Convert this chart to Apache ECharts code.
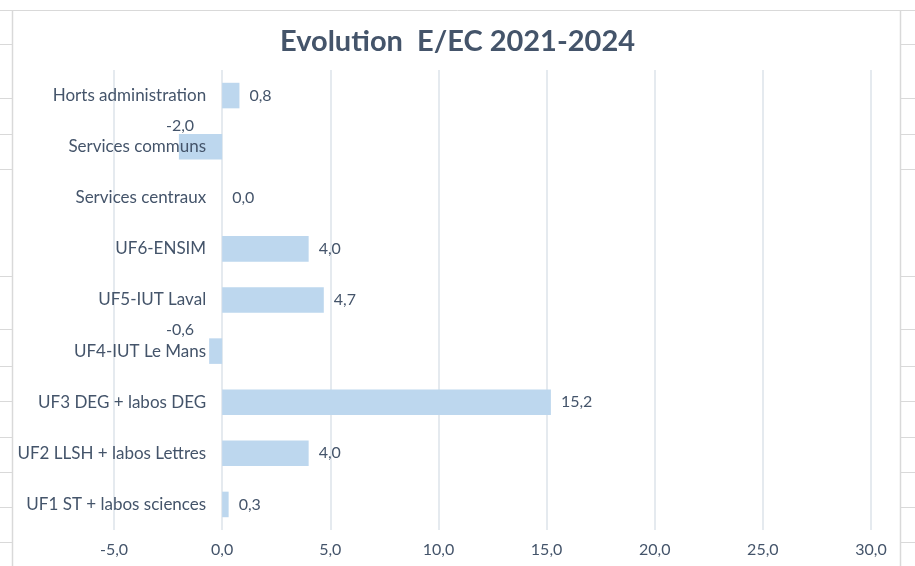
<!DOCTYPE html>
<html><head><meta charset="utf-8">
<script src="https://cdn.jsdelivr.net/npm/echarts@6/dist/echarts.min.js"></script>
<style>html,body{margin:0;padding:0;background:#fff}#c{width:915px;height:566px}</style>
</head><body><div id="c"></div>
<script>
const categories = ["UF1 ST + labos sciences","UF2 LLSH + labos Lettres","UF3 DEG + labos DEG","UF4-IUT Le Mans","UF5-IUT Laval","UF6-ENSIM","Services centraux","Services communs","Horts administration"];
const values = [0.3, 4.0, 15.2, -0.6, 4.7, 4.0, 0.0, -2.0, 0.8];
const xTicks = { min: -5, max: 30, interval: 5 };
const titleText = "Evolution  E/EC 2021-2024";

const FONT = "Lato";
const TXT = "#44546A";
const fmt = v => Number(v).toFixed(1).replace('.', ',');
const sheetRows = [44, 98, 134, 169, 276, 329, 366, 401, 437, 472, 507, 542];

const W = 915, GRID_L = 114, GRID_R = 44;
// place the category axis at the value 0 crossing (as in Excel)
const zeroOffset = -((0 - xTicks.min) / (xTicks.max - xTicks.min)) * (W - GRID_L - GRID_R);

const graphics = [];
graphics.push({type:'line', shape:{x1:0,y1:10.5,x2:915,y2:10.5}, style:{stroke:'#d9d9d9',lineWidth:1}, silent:true});
graphics.push({type:'line', shape:{x1:12.5,y1:10,x2:12.5,y2:566}, style:{stroke:'#d9d9d9',lineWidth:1.5}, silent:true});
graphics.push({type:'line', shape:{x1:900.5,y1:10,x2:900.5,y2:566}, style:{stroke:'#d9d9d9',lineWidth:1.5}, silent:true});
sheetRows.forEach(y => {
  graphics.push({type:'line', shape:{x1:0,y1:y+0.5,x2:12,y2:y+0.5}, style:{stroke:'#d9d9d9',lineWidth:1}, silent:true});
  graphics.push({type:'line', shape:{x1:901,y1:y+0.5,x2:915,y2:y+0.5}, style:{stroke:'#d9d9d9',lineWidth:1}, silent:true});
});

const data = values.map(v => ({
  value: v,
  label: v < 0
    ? { show: true, position: 'insideRight', distance: 5, offset: [-23, -21] }
    : { show: true, position: 'right', distance: 10 }
}));

const chart = echarts.init(document.getElementById('c'), null, {renderer:'canvas'});
chart.setOption({
  animation: false,
  backgroundColor: '#ffffff',
  textStyle: { fontFamily: FONT },
  graphic: graphics,
  title: {
    text: titleText, left: 'center', top: 22,
    textStyle: { fontFamily: FONT, fontSize: 29, fontWeight: 'bold', color: TXT }
  },
  grid: { left: GRID_L, right: GRID_R, top: 70, bottom: 36, containLabel: false, outerBoundsMode: 'none' },
  xAxis: {
    type: 'value', min: xTicks.min, max: xTicks.max, interval: xTicks.interval,
    axisLine: { show: false, onZero: false }, axisTick: { show: false },
    splitLine: { show: true, lineStyle: { color: '#dde3ea', width: 1.5 } },
    axisLabel: { color: TXT, fontSize: 16, fontFamily: FONT, margin: 12, formatter: fmt }
  },
  yAxis: {
    type: 'category', data: categories, z: 5, offset: zeroOffset,
    axisLine: { show: false, onZero: false },
    axisTick: { show: false },
    axisLabel: { color: TXT, fontSize: 17, fontFamily: FONT, margin: 16 }
  },
  series: [{
    type: 'bar', data: data, barWidth: '50%',
    itemStyle: { color: '#BDD7EE' },
    label: { color: TXT, fontSize: 16, fontFamily: FONT, formatter: p => fmt(p.value) }
  }]
});
</script></body></html>
